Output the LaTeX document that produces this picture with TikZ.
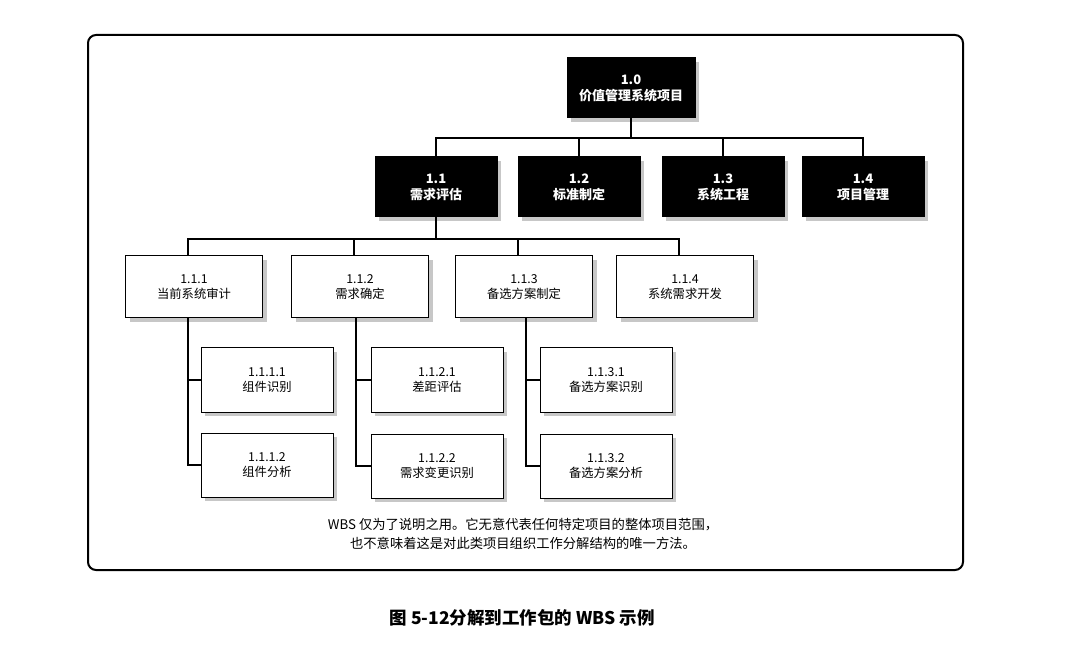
\documentclass[tikz,border=0pt]{standalone}
\usepackage{fontspec}
\setmainfont{Noto Sans CJK SC}
\usetikzlibrary{shadows}

\begin{document}
\begin{tikzpicture}[x=1pt,y=-1pt,
		box/.style={draw,line width=1pt,fill=white,align=center,inner sep=0pt,
			minimum width=137pt,minimum height=62pt,
			font=\fontsize{12.3}{15}\selectfont,
			drop shadow={shadow xshift=4pt,shadow yshift=-4pt,fill=black!22,opacity=1}},
		head/.style={box,fill=black,text=white,minimum width=122pt,minimum height=60pt,
			font=\bfseries\fontsize{13}{16}\selectfont},
		leaf/.style={box,minimum width=132pt,minimum height=64pt},
		link/.style={line width=1.2pt}]
		\useasboundingbox (0,0) rectangle (1066,652);
		\draw[line width=2pt,rounded corners=8pt] (88,35) rectangle (963,570);
		% level 0 and 1
		\node[head,minimum width=128pt] (10) at (631,88) {1.0\\价值管理系统项目};
		\node[head] (11) at (436,187) {1.1\\需求评估};
		\node[head] (12) at (579,187) {1.2\\标准制定};
		\node[head] (13) at (723,187) {1.3\\系统工程};
		\node[head] (14) at (863,187) {1.4\\项目管理};
		% level 2
		\node[box] (111) at (194,287) {1.1.1\\当前系统审计};
		\node[box] (112) at (360,287) {1.1.2\\需求确定};
		\node[box] (113) at (524,287) {1.1.3\\备选方案制定};
		\node[box] (114) at (685,287) {1.1.4\\系统需求开发};
		% level 3
		\node[leaf] (1111) at (267,380) {1.1.1.1\\组件识别};
		\node[leaf] (1112) at (267,465) {1.1.1.2\\组件分析};
		\node[leaf] (1121) at (437,380) {1.1.2.1\\差距评估};
		\node[leaf] (1122) at (437,466) {1.1.2.2\\需求变更识别};
		\node[leaf] (1131) at (606,380) {1.1.3.1\\备选方案识别};
		\node[leaf] (1132) at (606,466) {1.1.3.2\\备选方案分析};
		% buses
		\coordinate (b0) at (631,138);
		\coordinate (b1) at (436,239);
		\draw[link] (10) -- (b0);
		\foreach \n in {11,12,13,14}
			\draw[link] (b0) -| (\n);
		\draw[link] (11) -- (b1);
		\foreach \n in {111,112,113,114}
			\draw[link] (b1) -| ([xshift=-6pt]\n.north);
		\draw[link] ([xshift=-6pt]111.south) |- (1111);
		\draw[link] ([xshift=-6pt]111.south) |- (1112);
		\draw[link] ([xshift=-4pt]112.south) |- (1121);
		\draw[link] ([xshift=-4pt]112.south) |- (1122);
		\draw[link] ([xshift=2pt]113.south) |- (1131);
		\draw[link] ([xshift=2pt]113.south) |- (1132);
		% note and caption
		\node[align=center,font=\fontsize{13.3}{18.5}\selectfont] (note) at (523,534)
			{WBS 仅为了说明之用。它无意代表任何特定项目的整体项目范围，\\也不意味着这是对此类项目组织工作分解结构的唯一方法。};
		\node[font=\bfseries\fontsize{17.5}{20}\selectfont] (cap) at (522,618)
			{图 5-12分解到工作包的 WBS 示例};
	\end{tikzpicture}
\end{document}
